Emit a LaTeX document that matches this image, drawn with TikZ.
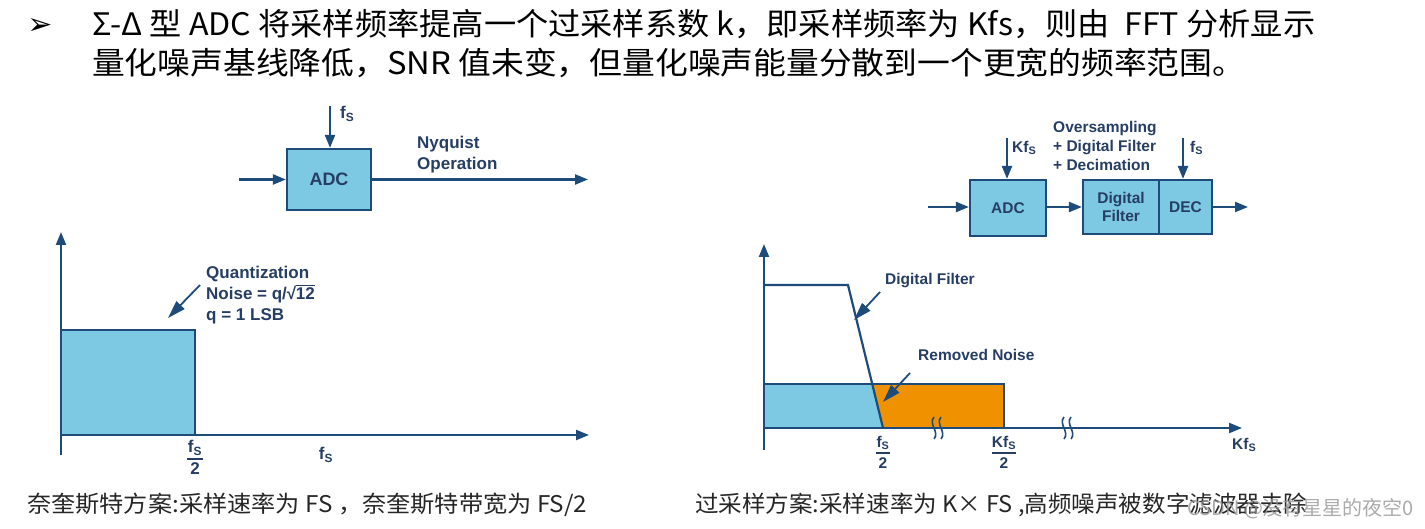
\documentclass[tikz,border=0pt]{standalone}
\usepackage{fontspec}
\usepackage{graphicx}
\usetikzlibrary{arrows.meta}
\setmainfont{Liberation Sans}
\newfontfamily\cjk{Noto Sans CJK SC}
\newfontfamily\djv{DejaVu Sans}
\definecolor{navy}{RGB}{30,76,122}
\definecolor{tnavy}{RGB}{38,62,100}
\definecolor{nblue}{RGB}{125,200,226}
\definecolor{norange}{RGB}{240,146,0}
\definecolor{wmark}{RGB}{150,150,150}
\tikzset{
  ln/.style={draw=navy, line width=2.2pt},
  arr/.style={draw=navy, line width=2.2pt, -{Triangle[length=13pt,width=10pt]}},
  bigarr/.style={draw=navy, line width=1.8pt, -{Triangle[length=18pt,width=11pt]}},
  box/.style={draw=navy, line width=2.2pt, fill=nblue, inner sep=0, text=tnavy, align=center},
  lab/.style={text=tnavy, font=\bfseries\fontsize{17}{21}\selectfont, inner sep=0},
  labs/.style={text=tnavy, font=\bfseries\fontsize{15.5}{19}\selectfont, inner sep=0},
  fracbar/.style={draw=tnavy, line width=1.8pt},
  ttl/.style={font=\cjk\fontsize{31}{31}\selectfont, anchor=base west, inner sep=0},
  capt/.style={font=\cjk\fontsize{23}{23}\selectfont, anchor=base west, inner sep=0, text=black!85},
}
\newcommand{\brk}[1]{%
  \draw[navy, line width=1.6pt] (#1-3,417) .. controls (#1-9,424) and (#1+3,432) .. (#1-3,439);
  \draw[navy, line width=1.6pt] (#1+4,417) .. controls (#1-2,424) and (#1+10,432) .. (#1+4,439);}
\begin{document}
\begin{tikzpicture}[x=1pt,y=-1pt]
\useasboundingbox (0,0) rectangle (1425,529);
\fill[white] (0,0) rectangle (1425,529);

% ---------- title ----------
\node[font=\djv\bfseries\fontsize{30}{30}\selectfont, inner sep=0] (bul) at (40,27) {➢};
\node[ttl] (t1) at (92,36) {\resizebox{1223pt}{\height}{Σ-Δ 型 ADC 将采样频率提高一个过采样系数 k，即采样频率为 Kfs，则由 \ FFT 分析显示}};
\node[ttl] (t2) at (92,75) {\resizebox{1153pt}{\height}{量化噪声基线降低，SNR 值未变，但量化噪声能量分散到一个更宽的频率范围。}};

% ---------- left block diagram ----------
\node[box, minimum width=84pt, minimum height=61pt, font=\bfseries\fontsize{18}{18}\selectfont] (adc1) at (329,179.5) {ADC};
\coordinate (in1) at (239,179.5);
\coordinate (out1) at (588,179.5);
\coordinate (fsin1) at (330,106);
\draw[arr] (in1) -- (adc1.west);
\draw[arr] (adc1.east) -- (out1);
\draw[arr] (fsin1) -- (fsin1 |- adc1.north);
\node[lab, anchor=west] (fs1) at (340,114) {f\textsubscript{S}};
\node[lab, anchor=west, align=left] (nyq) at (417,155) {Nyquist\\Operation};

% ---------- left chart ----------
\coordinate (o1) at (61,435);
\coordinate (ytop1) at (61,232);
\coordinate (ybot1) at (61,455);
\coordinate (xend1) at (589,435);
\filldraw[fill=nblue, ln] (61,330) rectangle (195,435);
\draw[arr] (ybot1) -- (ytop1);
\draw[arr] (o1) -- (xend1);
\node[lab, anchor=west, align=left] (qn) at (206,295) {Quantization\\Noise = q/√\kern-0.5pt\vbox{\hrule height 1.3pt\kern1.2pt\hbox{12}}\\q = 1 LSB};
\coordinate (qa) at (200,285);
\coordinate (qb) at (168,318);
\draw[bigarr] (qa) -- (qb);
\node[lab] (n1) at (195,448) {f\textsubscript{S}};
\draw[fracbar] (187,459) -- (203,459);
\node[lab] (d1) at (195,469) {2};
\node[lab] (fsx1) at (326,455) {f\textsubscript{S}};

% ---------- right block diagram ----------
\node[box, minimum width=76pt, minimum height=56pt, font=\bfseries\fontsize{15.5}{15.5}\selectfont] (adc2) at (1008,208) {ADC};
\node[box, minimum width=76pt, minimum height=54pt, font=\bfseries\fontsize{15.5}{18}\selectfont] (df) at (1121,207) {Digital\\Filter};
\node[box, minimum width=53pt, minimum height=54pt, font=\bfseries\fontsize{15.5}{15.5}\selectfont] (dec) at (1185.5,207) {DEC};
\coordinate (in2) at (928,207);
\coordinate (out2) at (1248,207);
\coordinate (kin) at (1007,138);
\coordinate (fin2) at (1183,138);
\draw[arr] (in2) -- (in2 -| adc2.west);
\draw[arr] (adc2.east |- df.west) -- (df.west);
\draw[arr] (dec.east) -- (out2);
\draw[arr] (kin) -- (kin |- adc2.north);
\draw[arr] (fin2) -- (fin2 |- dec.north);
\node[labs, anchor=west] (kfs) at (1012,148) {Kf\textsubscript{S}};
\node[labs, anchor=west] (fs2) at (1190,148) {f\textsubscript{S}};
\node[labs, anchor=west, align=left] (ovs) at (1053,146) {Oversampling\\+ Digital Filter\\+ Decimation};

% ---------- right chart ----------
\coordinate (o2) at (764,428);
\coordinate (ytop2) at (764,244);
\coordinate (ybot2) at (764,450);
\coordinate (xend2) at (1242,428);
\fill[nblue] (764,384) -- (872.2,384) -- (883,428) -- (764,428) -- cycle;
\fill[norange] (872.2,384) -- (1004,384) -- (1004,428) -- (883,428) -- cycle;
\draw[ln] (764,384) rectangle (1004,428);
\draw[ln] (764,285) -- (848,285) -- (883,428);
\draw[arr] (ybot2) -- (ytop2);
\draw[arr] (o2) -- (xend2);
\brk{937}
\brk{1067}
\node[labs, anchor=west] (dfl) at (885,281) {Digital Filter};
\coordinate (da) at (880,292);
\coordinate (db) at (854,320);
\draw[bigarr] (da) -- (db);
\node[labs, anchor=west] (rn) at (918,355) {Removed Noise};
\coordinate (ra) at (910,373);
\coordinate (rb) at (883,402);
\draw[bigarr] (ra) -- (rb);
\node[labs] (n2) at (883,443) {f\textsubscript{S}};
\draw[fracbar] (876,453) -- (890,453);
\node[labs] (d2) at (883,463) {2};
\node[labs] (n3) at (1004,443) {Kf\textsubscript{S}};
\draw[fracbar] (992,453) -- (1016,453);
\node[labs] (d3) at (1004,463) {2};
\node[labs, anchor=west] (kfx) at (1232,445) {Kf\textsubscript{S}};

% ---------- captions ----------
\node[capt] (c1) at (27,512) {\resizebox{560pt}{\height}{奈奎斯特方案:采样速率为 FS ，奈奎斯特带宽为 FS/2}};
\node[capt] (c2) at (695,512) {\resizebox{612pt}{\height}{过采样方案:采样速率为 K× FS ,高频噪声被数字滤波器去除}};
\node[font=\cjk\fontsize{20}{20}\selectfont, anchor=base west, inner sep=0, text=wmark, opacity=0.8] (wm) at (1187,515) {CSDN @没有星星的夜空0};
\end{tikzpicture}
\end{document}
